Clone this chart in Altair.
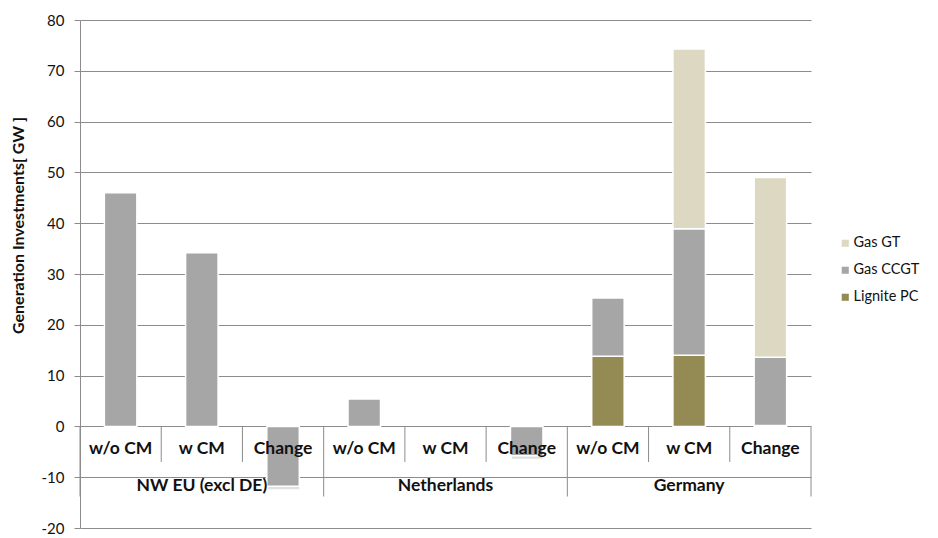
import altair as alt
import pandas as pd

groups = ["NW EU (excl DE)", "Netherlands", "Germany"]
scenarios = ["w/o CM", "w CM", "Change"]
techs = ["Gas GT", "Gas CCGT", "Lignite PC"]
tech_colors = ["#DDD8C2", "#A6A6A6", "#948A54"]

# values per bar (9 bars: group x scenario)
lignite_pc = [0, 0, 0, 0, 0, 0, 13.8, 14.0, 0.2]
gas_ccgt = [46.0, 34.2, -11.8, 5.4, 0, -5.8, 11.5, 24.9, 13.4]
gas_gt = [0, 0, 0, 0, 0, 0, 0, 35.4, 35.4]

rows = []
cats = []
for gi, g in enumerate(groups):
    for si, s in enumerate(scenarios):
        idx = gi * 3 + si
        cats.append({"idx": idx, "group": g, "scenario": s})
        for order, (t, vals) in enumerate(
            [("Lignite PC", lignite_pc), ("Gas CCGT", gas_ccgt), ("Gas GT", gas_gt)]
        ):
            rows.append({"idx": idx, "group": g, "scenario": s, "tech": t,
                         "value": vals[idx], "ord": order})
df = pd.DataFrame(rows)
cat_df = pd.DataFrame(cats)
grp_df = pd.DataFrame({"group": groups, "idx": [gi * 3 + 1 for gi in range(len(groups))]})
sep_df = pd.DataFrame({"b": list(range(len(cats) + 1))})

FONT = "Lato"
TXT = "#111111"
xs = alt.Scale(domain=[-0.5, len(cats) - 0.5], nice=False, zero=False)
ys = alt.Scale(domain=[-20, 80], nice=False)

yaxis = alt.Axis(
    values=list(range(-20, 81, 10)),
    labelExpr="'' + datum.value",
    grid=True,
    gridColor="#8c8c8c",
    gridWidth=1,
    domainColor="#8c8c8c",
    tickColor="#8c8c8c",
    tickSize=6,
    labelFont=FONT,
    labelFontSize=15,
    labelColor=TXT,
    labelPadding=10,
    title="Generation Investments[ GW ]",
    titleFont=FONT,
    titleFontSize=16,
    titleFontWeight="bold",
    titleColor=TXT,
    titleX=-62,
    titleY=205,
    titleAngle=270,
    titleAlign="center",
    titleBaseline="middle",
)

shadow = alt.Chart(df).transform_aggregate(
    total="sum(value)", groupby=["idx"]
).transform_filter("datum.total != 0").transform_calculate(
    xl="datum.idx - 0.2", xr="datum.idx + 0.2", zero="0"
).mark_bar(
    color="#000000", opacity=0.12, xOffset=1.5, yOffset=3
).encode(
    x=alt.X("xl:Q", scale=xs, axis=None),
    x2="xr:Q",
    y=alt.Y("total:Q", scale=ys, axis=yaxis),
    y2="zero:Q",
)

bars = alt.Chart(df).transform_filter("datum.value != 0").transform_stack(
    stack="value", groupby=["idx"], as_=["y0", "y1"], sort=[alt.SortField("ord")]
).transform_calculate(
    xl="datum.idx - 0.2", xr="datum.idx + 0.2"
).mark_bar(stroke="white", strokeWidth=1.5).encode(
    x=alt.X("xl:Q", scale=xs, axis=None),
    x2="xr:Q",
    y=alt.Y("y0:Q", scale=ys),
    y2="y1:Q",
    color=alt.Color(
        "tech:N",
        scale=alt.Scale(domain=techs, range=tech_colors),
        legend=alt.Legend(
            title=None,
            orient="none",
            legendX=758,
            legendY=216,
            symbolType="square",
            symbolSize=50,
            symbolStrokeWidth=0,
            labelFont=FONT,
            labelFontSize=14.5,
            labelColor=TXT,
            labelOffset=1,
            rowPadding=12,
        ),
    ),
)

sep = alt.Chart(sep_df).transform_calculate(
    xb="datum.b - 0.5",
    ya="0",
    yb="datum.b % 3 == 0 ? -13.8 : -7",
).mark_rule(color="#8c8c8c", strokeWidth=1).encode(
    x=alt.X("xb:Q", scale=xs, axis=None),
    y=alt.Y("ya:Q", scale=ys),
    y2="yb:Q",
)

cat_text = alt.Chart(cat_df).transform_calculate(ty="-4.5").mark_text(
    font=FONT, fontSize=17.5, fontWeight="bold", color=TXT, baseline="middle"
).encode(
    x=alt.X("idx:Q", scale=xs, axis=None),
    y=alt.Y("ty:Q", scale=ys),
    text="scenario:N",
)

grp_text = alt.Chart(grp_df).transform_calculate(ty="-11.7").mark_text(
    font=FONT, fontSize=17.5, fontWeight="bold", color=TXT, baseline="middle"
).encode(
    x=alt.X("idx:Q", scale=xs, axis=None),
    y=alt.Y("ty:Q", scale=ys),
    text="group:N",
)

chart = alt.layer(shadow, bars, sep, cat_text, grp_text).properties(
    width=731,
    height=508,
    autosize=alt.AutoSizeParams(type="none"),
    padding={"left": 80, "top": 20, "right": 127, "bottom": 10},
    background="white",
).configure_view(stroke=None)

chart.save("out.html", embed_options={"renderer": "svg", "actions": False})
